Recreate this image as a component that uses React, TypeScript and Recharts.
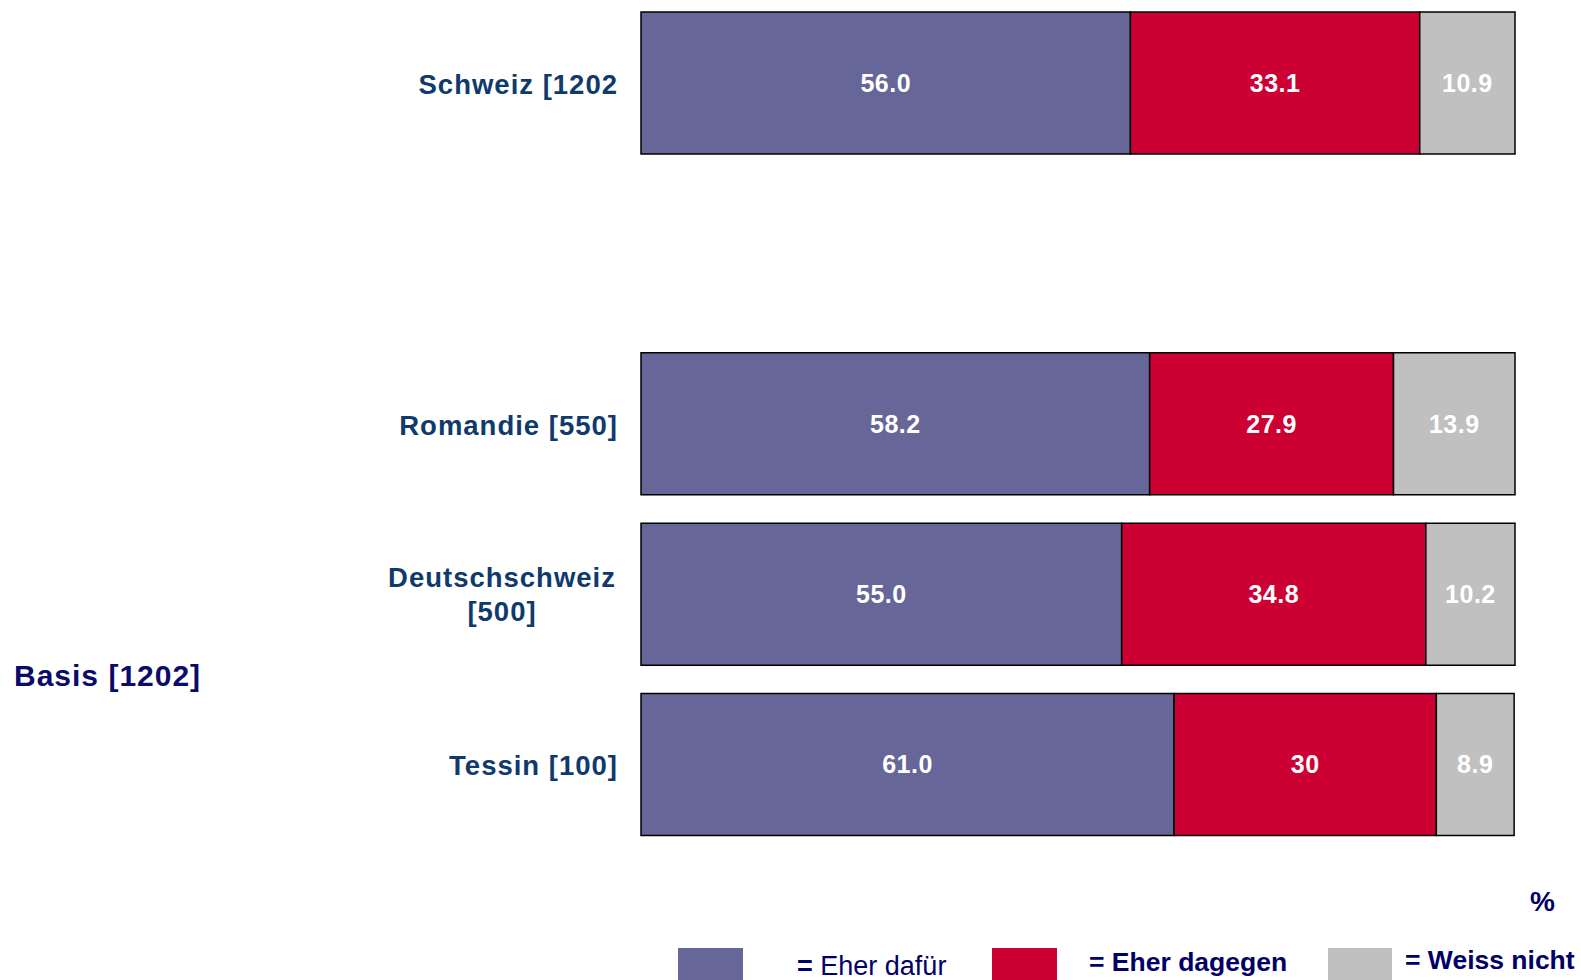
import React from "react";
import { BarChart, Bar, XAxis, YAxis, LabelList, Legend } from "recharts";

const categories = ["Schweiz [1202", "", "Romandie [550]", "Deutschschweiz\n[500]", "Tessin [100]"];
const eherDafuer = [56.0, null, 58.2, 55.0, 61.0];
const eherDagegen = [33.1, null, 27.9, 34.8, 30];
const weissNicht = [10.9, null, 13.9, 10.2, 8.9];
const dafuerLabels = ["56.0", "", "58.2", "55.0", "61.0"];
const dagegenLabels = ["33.1", "", "27.9", "34.8", "30"];
const weissLabels = ["10.9", "", "13.9", "10.2", "8.9"];

const seriesNames = ["Eher dafür", "Eher dagegen", "Weiss nicht"];
const seriesColors = ["#666699", "#CC0033", "#C0C0C0"];
const baseLabel = "Basis [1202]";
const unitLabel = "%";

const data = categories.map((c, i) => ({
  cat: c,
  a: eherDafuer[i],
  b: eherDagegen[i],
  c: weissNicht[i],
  la: dafuerLabels[i],
  lb: dagegenLabels[i],
  lc: weissLabels[i],
}));

const FONT = "'Liberation Sans', Arial, Helvetica, sans-serif";
const CAT_SIZE = 27.5;
const CAT_SPACING = 1;

function measure(text: string): number {
  try {
    const cv = document.createElement("canvas");
    const ctx = cv.getContext("2d");
    if (ctx) {
      ctx.font = `bold ${CAT_SIZE}px ${FONT}`;
      return ctx.measureText(text).width + CAT_SPACING * text.length;
    }
  } catch (e) {}
  return text.length * CAT_SIZE * 0.58;
}

const CatTick = (props: any) => {
  const { x, y, payload } = props;
  const val: string = payload?.value ?? "";
  if (!val) return null;
  const lines = val.split("\n");
  const common = {
    fill: "#0F3A6B",
    fontFamily: FONT,
    fontWeight: 700,
    fontSize: CAT_SIZE,
    letterSpacing: CAT_SPACING,
  } as any;
  if (lines.length === 1) {
    return (
      <text x={x} y={y + 1} textAnchor="end" dominantBaseline="central" {...common}>
        {val}
      </text>
    );
  }
  const w = Math.max(...lines.map(measure));
  const cx = x - 2 - w / 2;
  const lh = 34;
  const start = y - ((lines.length - 1) * lh) / 2;
  return (
    <text textAnchor="middle" {...common}>
      {lines.map((l, i) => (
        <tspan key={i} x={cx} y={start + i * lh} dominantBaseline="central">
          {l}
        </tspan>
      ))}
    </text>
  );
};

const legendTextColor = "#000066";

const LegendContent = () => {
  const sq = [
    { left: 678, width: 65 },
    { left: 992, width: 65 },
    { left: 1328, width: 64 },
  ];
  const txt = [
    { left: 797, top: 966, bold: false, size: 27 },
    { left: 1089, top: 962, bold: true, size: 26.5 },
    { left: 1405, top: 960, bold: true, size: 26.5 },
  ];
  return (
    <div style={{ position: "relative", width: 1581, height: 982 }}>
      <div
        style={{
          position: "absolute",
          left: 14,
          top: 678 - 17,
          height: 34,
          lineHeight: "34px",
          fontFamily: FONT,
          fontWeight: 700,
          fontSize: 30,
          letterSpacing: 1,
          color: "#0B0B6B",
          whiteSpace: "nowrap",
        }}
      >
        {baseLabel}
      </div>
      <div
        style={{
          position: "absolute",
          left: 1530,
          top: 904 - 17,
          height: 34,
          lineHeight: "34px",
          fontFamily: FONT,
          fontWeight: 700,
          fontSize: 28,
          color: legendTextColor,
        }}
      >
        {unitLabel}
      </div>
      {seriesNames.map((n, i) => (
        <React.Fragment key={n}>
          <div
            style={{
              position: "absolute",
              left: sq[i].left,
              top: 950,
              width: sq[i].width,
              height: 40,
              background: seriesColors[i],
            }}
          />
          <div
            style={{
              position: "absolute",
              left: txt[i].left,
              top: txt[i].top + 2 - 17,
              height: 34,
              lineHeight: "34px",
              fontFamily: FONT,
              fontSize: txt[i].size,
              fontWeight: txt[i].bold ? 700 : 400,
              color: legendTextColor,
              whiteSpace: "nowrap",
            }}
          >
            <span style={{ fontWeight: 700 }}>=</span> {n}
          </div>
        </React.Fragment>
      ))}
    </div>
  );
};

const valueLabelStyle = {
  fill: "#FFFFFF",
  fontFamily: FONT,
  fontWeight: 700,
  fontSize: 25,
  letterSpacing: 0.5,
} as any;

export default function App() {
  return (
    <div
      style={{
        position: "absolute",
        left: 0,
        top: 0,
        width: 1581,
        height: 980,
        overflow: "hidden",
        background: "#fff",
      }}
    >
      <div style={{ position: "absolute", left: 0, top: -2 }}>
        <BarChart
          width={1581}
          height={982}
          data={data}
          layout="vertical"
          margin={{ top: 0, right: 66, bottom: 130, left: 0 }}
          barSize={142}
        >
          <XAxis type="number" domain={[0, 100]} hide />
          <YAxis
            type="category"
            dataKey="cat"
            width={641}
            axisLine={false}
            tickLine={false}
            tickSize={0}
            tickMargin={23}
            tick={<CatTick />}
            interval={0}
          />
          <Legend
            layout="horizontal"
            verticalAlign="middle"
            align="center"
            wrapperStyle={{ position: "absolute", left: 0, top: 0, width: 1581, height: 982 }}
            content={<LegendContent />}
          />
          <Bar dataKey="a" name={seriesNames[0]} stackId="s" fill={seriesColors[0]} stroke="#000" strokeWidth={1.5} isAnimationActive={false}>
            <LabelList dataKey="la" position="center" style={valueLabelStyle} />
          </Bar>
          <Bar dataKey="b" name={seriesNames[1]} stackId="s" fill={seriesColors[1]} stroke="#000" strokeWidth={1.5} isAnimationActive={false}>
            <LabelList dataKey="lb" position="center" style={valueLabelStyle} />
          </Bar>
          <Bar dataKey="c" name={seriesNames[2]} stackId="s" fill={seriesColors[2]} stroke="#000" strokeWidth={1.5} isAnimationActive={false}>
            <LabelList dataKey="lc" position="center" style={valueLabelStyle} />
          </Bar>
        </BarChart>
      </div>
    </div>
  );
}
